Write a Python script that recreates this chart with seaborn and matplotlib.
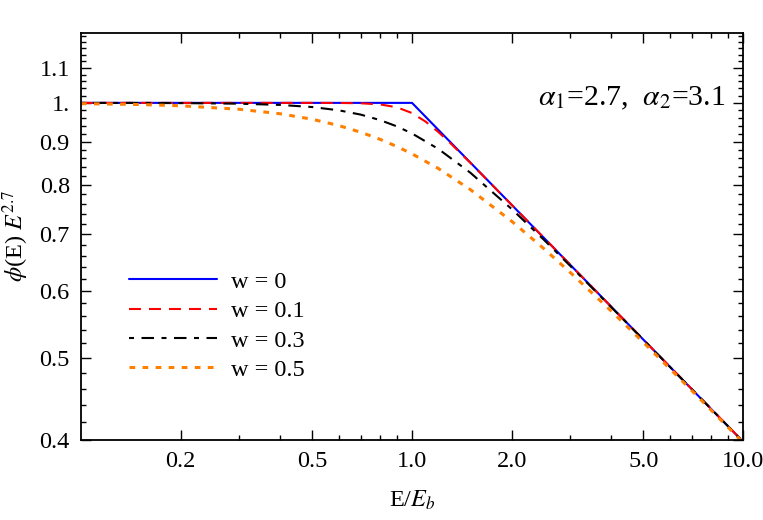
import numpy as np
import pandas as pd
import matplotlib
matplotlib.use("Agg")
import matplotlib.pyplot as plt
import seaborn as sns
from matplotlib.ticker import FixedLocator, FixedFormatter, NullFormatter

# values
x_w0 = [0.1, 1.0, 10.0]
y_w0 = [1.0, 1.0, 0.398]

x_w01 = [0.1, 0.3, 0.5, 0.6, 0.7, 0.8, 0.9, 1.0, 1.1, 1.2, 1.3, 1.5, 2.0, 2.5, 3.0, 4.0, 5.0, 7.0, 10.0]
y_w01 = [1.0, 1.0, 1.0, 0.9998, 0.9989, 0.9959, 0.9881, 0.9727, 0.9501, 0.9241, 0.8978, 0.8497,
         0.7578, 0.6931, 0.6444, 0.5743, 0.5253, 0.4592, 0.3981]

x_w03 = [0.1, 0.15, 0.2, 0.3, 0.4, 0.5, 0.6, 0.7, 0.8, 0.9, 1.0, 1.2, 1.5, 2.0, 2.5, 3.0, 4.0, 5.0, 7.0, 10.0]
y_w03 = [1.0, 0.9998, 0.9994, 0.9978, 0.9945, 0.9887, 0.9801, 0.9686, 0.9544, 0.9381, 0.9202,
         0.8825, 0.8271, 0.7493, 0.6894, 0.6424, 0.5737, 0.5250, 0.4591, 0.3981]

x_w05 = [0.1, 0.15, 0.2, 0.3, 0.4, 0.5, 0.6, 0.7, 0.8, 0.9, 1.0, 1.2, 1.5, 2.0, 2.5, 3.0, 4.0, 5.0, 7.0, 10.0]
y_w05 = [0.998, 0.9956, 0.9922, 0.9829, 0.9708, 0.9564, 0.9403, 0.9233, 0.9058, 0.8882, 0.8706,
         0.8368, 0.790, 0.7248, 0.6729, 0.631, 0.5676, 0.5214, 0.4573, 0.3971]

labels = ["w = 0", "w = 0.1", "w = 0.3", "w = 0.5"]

x_major = [0.2, 0.5, 1.0, 2.0, 5.0, 10.0]
x_major_labels = ["0.2", "0.5", "1.0", "2.0", "5.0", "10.0"]
x_minor = [0.3, 0.4, 0.6, 0.7, 0.8, 0.9, 3, 4, 6, 7, 8, 9]
y_major = [0.4, 0.5, 0.6, 0.7, 0.8, 0.9, 1.0, 1.1]
y_major_labels = ["0.4", "0.5", "0.6", "0.7", "0.8", "0.9", "1.", "1.1"]

sns.set_style("ticks")
plt.rcParams['font.family'] = ['Liberation Serif', 'DejaVu Serif']
plt.rcParams['mathtext.fontset'] = 'stix'
plt.rcParams['lines.scale_dashes'] = False
for key in ['text.color', 'axes.labelcolor', 'xtick.color', 'ytick.color', 'axes.edgecolor']:
    plt.rcParams[key] = 'black'

fig = plt.figure(figsize=(7.63, 5.2), dpi=100)
ax = fig.add_axes([0.106, 0.154, 0.868, 0.783])

series = [
    (x_w0, y_w0, labels[0], "#0000ff", "-", 1.5),
    (x_w01, y_w01, labels[1], "#ff0000", (0, (8.6, 5.8)), 1.5),
    (x_w03, y_w03, labels[2], "black", (0, (3.6, 5.4, 9.0, 5.4)), 1.5),
    (x_w05, y_w05, labels[3], "#ff8000", (0, (4.1, 5.3)), 2.2),
]
for xs, ys, lab, col, ls, lw in series:
    df = pd.DataFrame({"x": xs, "y": ys})
    sns.lineplot(data=df, x="x", y="y", ax=ax, color=col, linestyle=ls, linewidth=lw,
                 label=lab, sort=False)

ax.set_xscale("log")
ax.set_yscale("log")
ax.set_xlim(0.1, 10)
ax.set_ylim(0.4, 1.21)

ax.xaxis.set_major_locator(FixedLocator(x_major))
ax.xaxis.set_major_formatter(FixedFormatter(x_major_labels))
ax.xaxis.set_minor_locator(FixedLocator(x_minor))
ax.xaxis.set_minor_formatter(NullFormatter())
ax.yaxis.set_major_locator(FixedLocator(y_major))
ax.yaxis.set_major_formatter(FixedFormatter(y_major_labels))
ax.yaxis.set_minor_locator(FixedLocator([round(v, 2) for v in np.arange(0.42, 1.21, 0.02)]))
ax.yaxis.set_minor_formatter(NullFormatter())

ax.tick_params(which="both", direction="in", top=True, right=True, width=1)
ax.tick_params(which="major", length=7, labelsize=17.5, pad=8)
ax.tick_params(which="minor", length=3.5)
for sp in ax.spines.values():
    sp.set_linewidth(1.3)

ax.set_xlabel(r"E/$E_b$", fontsize=17.5, labelpad=12)
ax.set_ylabel(r"$\phi$(E) $E^{2.7}$", fontsize=17.5, labelpad=6)

ax.text(0.973, 0.84, r"$\alpha_1$=2.7,  $\alpha_2$=3.1", transform=ax.transAxes,
        ha="right", va="center", fontsize=21.5)

ax.legend(loc="center left", bbox_to_anchor=(0.04, 0.28), frameon=False, fontsize=17.5,
          handlelength=3.6, handletextpad=0.6, labelspacing=0.3)

plt.savefig("out.png", dpi=100)
